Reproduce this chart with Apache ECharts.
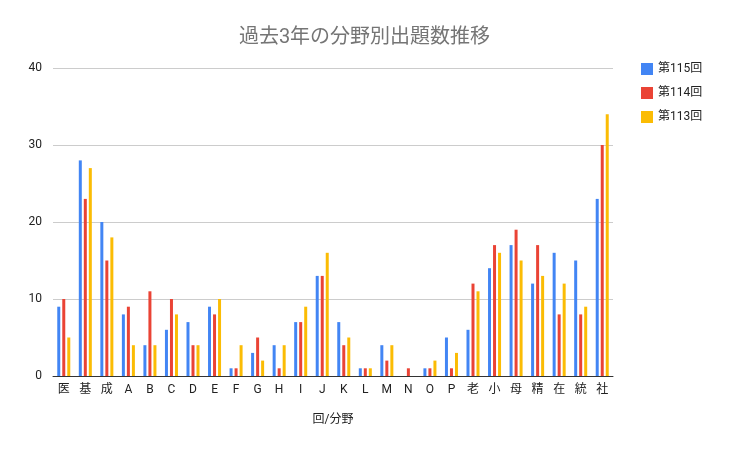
<!DOCTYPE html>
<html>
<head>
<meta charset="utf-8">
<script src="https://cdn.jsdelivr.net/npm/echarts@6/dist/echarts.min.js"></script>
<style>
  html, body { margin: 0; padding: 0; background: #fff; }
  #chart { width: 729px; height: 451px; }
</style>
</head>
<body>
<div id="chart"></div>
<script>
// 分野
var categories = ['医','基','成','A','B','C','D','E','F','G','H','I','J','K','L','M','N','O','P','老','小','母','精','在','統','社'];
var seriesNames = ['第115回','第114回','第113回'];
var v115 = [9,28,20,8,4,6,7,9,1,3,4,7,13,7,1,4,0,1,5,6,14,17,12,16,15,23];
var v114 = [10,23,15,9,11,10,4,8,1,5,1,7,13,4,1,2,1,1,1,12,17,19,17,8,8,30];
var v113 = [5,27,18,4,4,8,4,10,4,2,4,9,16,5,1,4,0,2,3,11,16,15,13,12,9,34];
var yTicks = [0,10,20,30,40];

var colors = ['#4285F4','#EA4335','#FBBC04'];
var font = 'Roboto, "Noto Sans CJK JP", sans-serif';

var myChart = echarts.init(document.getElementById('chart'));

var option = {
    color: colors,
    title: {
        text: '過去3年の分野別出題数推移',
        left: 'center',
        top: 23,
        textStyle: { color: '#757575', fontSize: 20, fontWeight: 'normal', fontFamily: font }
    },
    legend: {
        orient: 'vertical',
        left: 636,
        top: 58,
        itemWidth: 12,
        itemHeight: 12,
        itemGap: 12,
        icon: 'rect',
        textStyle: { color: '#222', fontSize: 12, fontFamily: font },
        data: seriesNames
    },
    grid: { left: 53, right: 116, top: 68, bottom: 75, containLabel: false },
    xAxis: {
        type: 'category',
        data: categories,
        name: '回/分野',
        nameLocation: 'middle',
        nameGap: 38,
        nameTextStyle: { color: '#222', fontSize: 12, fontFamily: font },
        axisTick: { show: false },
        axisLine: { lineStyle: { color: '#333', width: 1 } },
        axisLabel: { color: '#222', fontSize: 12, margin: 8, interval: 0, fontFamily: font }
    },
    yAxis: {
        type: 'value',
        min: yTicks[0],
        max: yTicks[yTicks.length - 1],
        interval: 10,
        axisLine: { show: false },
        axisTick: { show: false },
        axisLabel: { color: '#222', fontSize: 12, margin: 11, fontFamily: font },
        splitLine: { lineStyle: { color: '#ccc' } }
    },
    series: [
        { name: seriesNames[0], type: 'bar', data: v115, barWidth: 3, barGap: '67%' },
        { name: seriesNames[1], type: 'bar', data: v114, barWidth: 3, barGap: '67%' },
        { name: seriesNames[2], type: 'bar', data: v113, barWidth: 3, barGap: '67%' }
    ]
};

myChart.setOption(option);
</script>
</body>
</html>
